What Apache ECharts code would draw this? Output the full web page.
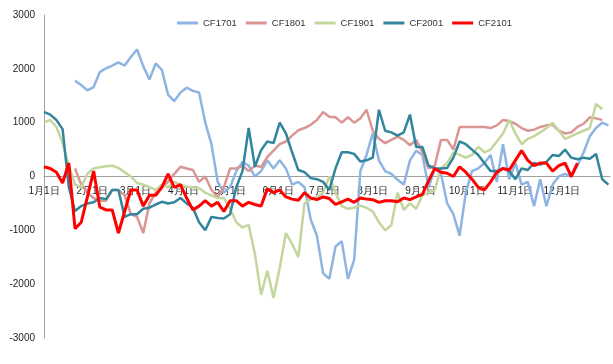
<!DOCTYPE html>
<html>
<head>
<meta charset="utf-8">
<script src="https://cdn.jsdelivr.net/npm/echarts@6/dist/echarts.min.js"></script>
<style>html,body{margin:0;padding:0;background:#fff;}#c{width:613px;height:364px;}</style>
</head>
<body>
<div id="c"></div>
<script>
// day of year (0 = Jan 1)
const days = [
  0,4,8,12,16,20,24,28,
  32,36,40,44,48,52,56,60,
  64,68,72,76,80,84,88,92,
  96,100,104,108,112,116,120,124,
  128,132,136,140,144,148,152,156,
  160,164,168,172,176,180,184,188,
  192,196,200,204,208,212,216,220,
  224,228,232,236,240,244,248,252,
  256,260,264,268,272,276,280,284,
  288,292,296,300,304,308,312,316,
  320,324,328,332,336,340,344,348,
  352,356,360,364
];
const monthStarts = [0,31,59,90,120,151,181,212,243,273,304,334];
const monthLabels = ['1月1日','2月1日','3月1日','4月1日','5月1日','6月1日','7月1日','8月1日','9月1日','10月1日','11月1日','12月1日'];
const seriesNames = ['CF1701','CF1801','CF1901','CF2001','CF2101'];

const cf1701 = [
  null,null,null,null,null,1780,1700,1600,
  1660,1940,2010,2060,2120,2060,2220,2360,
  2050,1800,2100,1980,1520,1400,1560,1650,
  1590,1560,1000,600,-100,-300,-200,100,
  270,200,0,100,300,150,300,150,
  -150,-100,-200,-800,-1100,-1800,-1900,-1300,
  -1200,-1900,-1550,100,400,800,300,100,
  50,-60,-150,300,480,400,-200,150,
  50,-500,-700,-1100,-300,100,150,250,
  400,-100,600,-50,250,-150,-100,-550,
  -50,-550,-150,0,50,0,200,450,
  750,900,1000,950
];
const cf1801 = [
  null,null,null,null,null,150,-150,-300,
  -400,-450,-450,-250,-250,-350,-700,-750,
  -1050,-500,-300,-200,-100,50,180,150,
  120,-100,0,-250,-380,-200,150,150,
  200,100,200,180,360,480,600,650,
  760,860,900,960,1050,1200,1110,1100,
  1000,1100,1000,1080,1240,850,700,620,
  680,740,680,580,680,450,150,200,
  680,680,500,920,920,920,920,920,
  900,950,1050,1030,980,900,850,870,
  920,950,960,850,800,820,920,980,
  1100,1080,1050,null
];
const cf1901 = [
  1000,1050,920,620,200,-150,-200,50,
  150,170,190,200,160,80,0,-120,
  -150,-200,-250,-150,-200,-100,-150,-190,
  -200,-220,-300,-350,-400,-400,-600,-850,
  -950,-900,-1440,-2200,-1750,-2250,-1700,-1050,
  -1250,-1500,-500,-420,-380,-300,0,-300,
  -550,-600,-580,-540,-580,-650,-850,-1000,
  -900,-300,-620,-500,-600,-350,-300,-250,
  150,250,450,400,350,400,550,450,
  500,650,800,1050,800,600,700,750,
  820,900,1000,850,700,750,800,850,
  900,1350,1250,null
];
const cf2001 = [
  1200,1150,1050,880,-200,-640,-550,-500,
  -480,-400,-420,-250,-250,-750,-700,-700,
  -600,-580,-520,-470,-500,-480,-400,-500,
  -580,-850,-1000,-750,-770,-780,-700,-200,
  100,900,180,490,650,620,1000,800,
  450,120,80,-30,-50,-100,-250,150,
  450,450,420,280,300,350,1240,850,
  820,760,820,1150,550,550,200,150,
  150,160,350,650,600,500,400,250,
  100,100,150,100,-50,150,120,250,
  220,270,400,380,500,350,320,350,
  330,420,-50,-150
];
const cf2101 = [
  180,150,80,-120,250,-970,-850,-380,
  100,-570,-620,-620,-1050,-650,-250,-250,
  -550,-350,-350,-200,50,-200,-150,-400,
  -620,-550,-450,-550,-480,-650,-450,-450,
  -550,-480,-520,-550,-230,-300,-250,-380,
  -420,-440,-300,-400,-430,-380,-410,-520,
  -470,-420,-480,-400,-420,-430,-480,-450,
  -450,-470,-400,-430,-380,-330,-80,150,
  80,60,0,180,80,-50,-200,-250,
  -100,80,150,120,300,480,300,200,
  250,250,100,200,250,0,250,null,
  null,null,null,null
];

const colors = ['#8EB4E3','#D99694','#C3D69B','#31859C','#FF0000'];
const widths = [2.5,2.5,2.5,2.5,3];
const allVals = [cf1701,cf1801,cf1901,cf2001,cf2101];

function pairs(vals){
  const out = [];
  for (let i=0;i<days.length;i++){ if (vals[i]!==null) out.push([days[i], vals[i]]); }
  return out;
}

const FONT = 'Liberation Sans, Arial, sans-serif';
const GRID_TOP = 15, GRID_BOTTOM = 26, H = 364;
const plotH = H - GRID_TOP - GRID_BOTTOM;
// x axis sits on the y = 0 line (middle of the symmetric -3000..3000 range)
const xAxisOffset = -plotH / 2;

const chart = echarts.init(document.getElementById('c'), null, {renderer:'canvas'});
chart.setOption({
  animation:false,
  backgroundColor:'#fff',
  grid:{left:44, right:3, top:GRID_TOP, bottom:GRID_BOTTOM, containLabel:false},
  legend:{
    left:172, top:13, icon:'rect', itemWidth:21, itemHeight:3, itemGap:9,
    textStyle:{fontSize:9.5, color:'#333', fontFamily:FONT},
    data:seriesNames
  },
  xAxis:{
    type:'value', min:0, max:365, position:'bottom', offset:xAxisOffset,
    axisLine:{show:true, onZero:false, lineStyle:{color:'#a0a0a0', width:1}},
    axisTick:{show:false},
    splitLine:{show:false},
    axisLabel:{
      customValues:monthStarts,
      margin:10,
      fontSize:10, color:'#222', fontFamily:FONT,
      formatter:function(v){ const i = monthStarts.indexOf(Math.round(v)); return i>=0 ? monthLabels[i] : ''; }
    }
  },
  yAxis:{
    type:'value', min:-3000, max:3000, interval:1000,
    axisLine:{show:true, onZero:false, lineStyle:{color:'#a0a0a0', width:1}},
    axisTick:{show:false},
    splitLine:{show:false},
    axisLabel:{margin:9, fontSize:10, color:'#222', fontFamily:FONT,
      formatter:function(v){ return String(v); }}
  },
  series: seriesNames.map((n,k)=>({
    name:n, type:'line', symbol:'none', smooth:false,
    data:pairs(allVals[k]),
    lineStyle:{color:colors[k], width:widths[k]},
    itemStyle:{color:colors[k]},
    z:2+k
  }))
});
</script>
</body>
</html>
